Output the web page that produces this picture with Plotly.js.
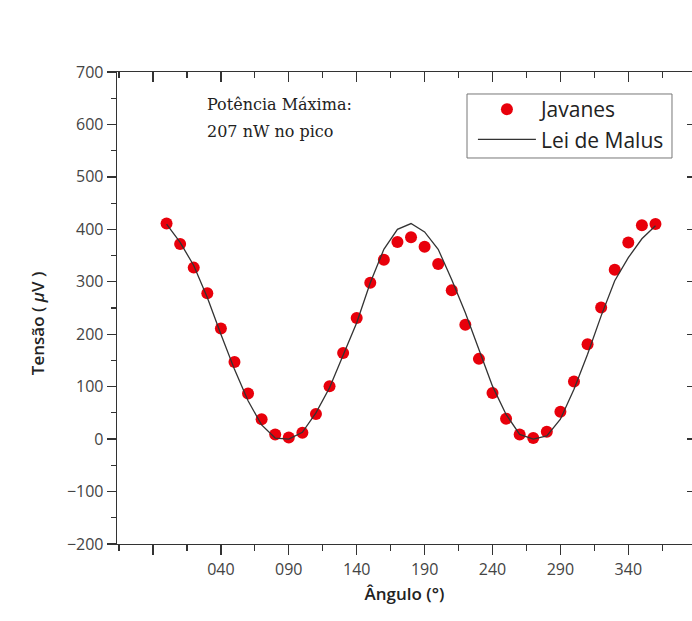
<!DOCTYPE html>
<html>
<head>
<meta charset="utf-8">
<script src="https://cdn.plot.ly/plotly-3.0.1.min.js"></script>
<style>html,body{margin:0;padding:0;background:#fff;}#chart{width:692px;height:621px;}</style>
</head>
<body>
<div id="chart"></div>
<script>
// Data
const angles = [0,10,20,30,40,50,60,70,80,90,100,110,120,130,140,150,160,170,180,190,200,210,220,230,240,250,260,270,280,290,300,310,320,330,340,350,360];
const javanes = [411,372,327,278,211,147,87,38,9,3,12,48,101,164,231,298,342,376,385,367,334,284,218,153,88,39,9,2,14,52,110,181,251,323,375,408,410];
const malus = [410,375,331,270,200,133,73,27,2,0,13,50,98,160,222,298,362,400,411,395,362,304,241,171,101,47,9,0,6,38,95,162,235,302,346,382,407];
const xTickVals = [-10,40,90,140,190,240,290,340,390];
const xTickText = ['','040','090','140','190','240','290','340',''];
const xMinorVals = [-35,15,65,115,165,215,265,315,365];
const yTickVals = [-200,-100,0,100,200,300,400,500,600,700];

const axisColor = '#333';
const tickFont = {family: 'Open Sans, sans-serif', size: 16, color: '#444'};

const traces = [
  {x: angles, y: javanes, name: 'Javanes', type: 'scatter', mode: 'markers',
   marker: {color: '#e8000b', size: 12}},
  {x: angles, y: malus, name: 'Lei de Malus', type: 'scatter', mode: 'lines',
   line: {color: '#333', width: 1.3}}
];

const xr = [-36.5, 386.9];
const yr = [-200, 700];

const layout = {
  width: 692, height: 621,
  margin: {l: 117, r: 0, t: 72, b: 77},
  paper_bgcolor: '#fff', plot_bgcolor: '#fff',
  showlegend: true,
  xaxis: {
    range: xr, showgrid: false, zeroline: false,
    showline: true, linecolor: axisColor, linewidth: 1.3,
    ticks: 'outside', ticklen: 10, tickcolor: axisColor, tickwidth: 1.3,
    tickmode: 'array', tickvals: xTickVals, ticktext: xTickText,
    minor: {tickmode: 'array', tickvals: xMinorVals, ticks: 'outside', ticklen: 6, tickcolor: axisColor, tickwidth: 1.2},
    tickfont: tickFont,
    title: {text: 'Ângulo (°)', font: {family: 'Open Sans, sans-serif', size: 17, color: '#222', weight: 600}, standoff: 9}
  },
  xaxis2: {
    overlaying: 'x', side: 'top', range: xr, showgrid: false, zeroline: false,
    showline: true, linecolor: axisColor, linewidth: 1.3,
    ticks: 'inside', ticklen: 10, tickcolor: axisColor, tickwidth: 1.3,
    tickmode: 'array', tickvals: xTickVals, showticklabels: false,
    minor: {tickmode: 'array', tickvals: xMinorVals, ticks: 'inside', ticklen: 6, tickcolor: axisColor, tickwidth: 1.2}
  },
  yaxis: {
    range: yr, showgrid: false, zeroline: false,
    showline: true, linecolor: axisColor, linewidth: 1.3,
    ticks: 'outside', ticklen: 9, tickcolor: axisColor, tickwidth: 1.3,
    tickmode: 'array', tickvals: yTickVals,
    minor: {tickmode: 'linear', tick0: -150, dtick: 100, ticks: 'outside', ticklen: 5, tickcolor: axisColor, tickwidth: 1.2},
    tickfont: tickFont,
    title: {text: 'Tensão (&nbsp;<i>μ</i>V&nbsp;)&nbsp;&nbsp;&nbsp;&nbsp;&nbsp;&nbsp;&nbsp;', font: {family: 'Open Sans, sans-serif', size: 17, color: '#222', weight: 600}, standoff: 18}
  },
  yaxis2: {
    overlaying: 'y', side: 'right', range: yr, showgrid: false, zeroline: false,
    showline: false, ticks: 'inside', ticklen: 5, tickcolor: axisColor, tickwidth: 1.3,
    tickmode: 'array', tickvals: yTickVals, showticklabels: false
  },
  legend: {
    x: 0.619, y: 0.964, xanchor: 'left', yanchor: 'top',
    borderwidth: 0, bgcolor: 'rgba(0,0,0,0)',
    font: {family: 'Open Sans, sans-serif', size: 21, color: '#222'},
    itemwidth: 58, tracegroupgap: 0
  },
  shapes: [
    {type: 'rect', xref: 'paper', yref: 'paper', x0: 0.6087, x1: 0.9652, y0: 0.8178, y1: 0.9534,
     line: {color: '#777', width: 1}, fillcolor: 'rgba(0,0,0,0)', layer: 'above'}
  ],
  annotations: [
    {xref: 'paper', yref: 'paper', x: 0.153, y: 0.932, xanchor: 'left', yanchor: 'middle', showarrow: false,
     text: 'Potência Máxima:', font: {family: 'DejaVu Serif, serif', size: 16, color: '#222'}},
    {xref: 'paper', yref: 'paper', x: 0.153, y: 0.873, xanchor: 'left', yanchor: 'middle', showarrow: false,
     text: '207 nW no pico', font: {family: 'DejaVu Serif, serif', size: 16, color: '#222'}}
  ]
};

// invisible helper trace so the mirrored axes are drawn
traces.push({x: [xr[0]], y: [yr[0]], xaxis: 'x2', yaxis: 'y2', type: 'scatter', mode: 'markers',
  marker: {opacity: 0}, showlegend: false, hoverinfo: 'skip'});

Plotly.newPlot('chart', traces, layout, {displayModeBar: false, staticPlot: true});
</script>
</body>
</html>
